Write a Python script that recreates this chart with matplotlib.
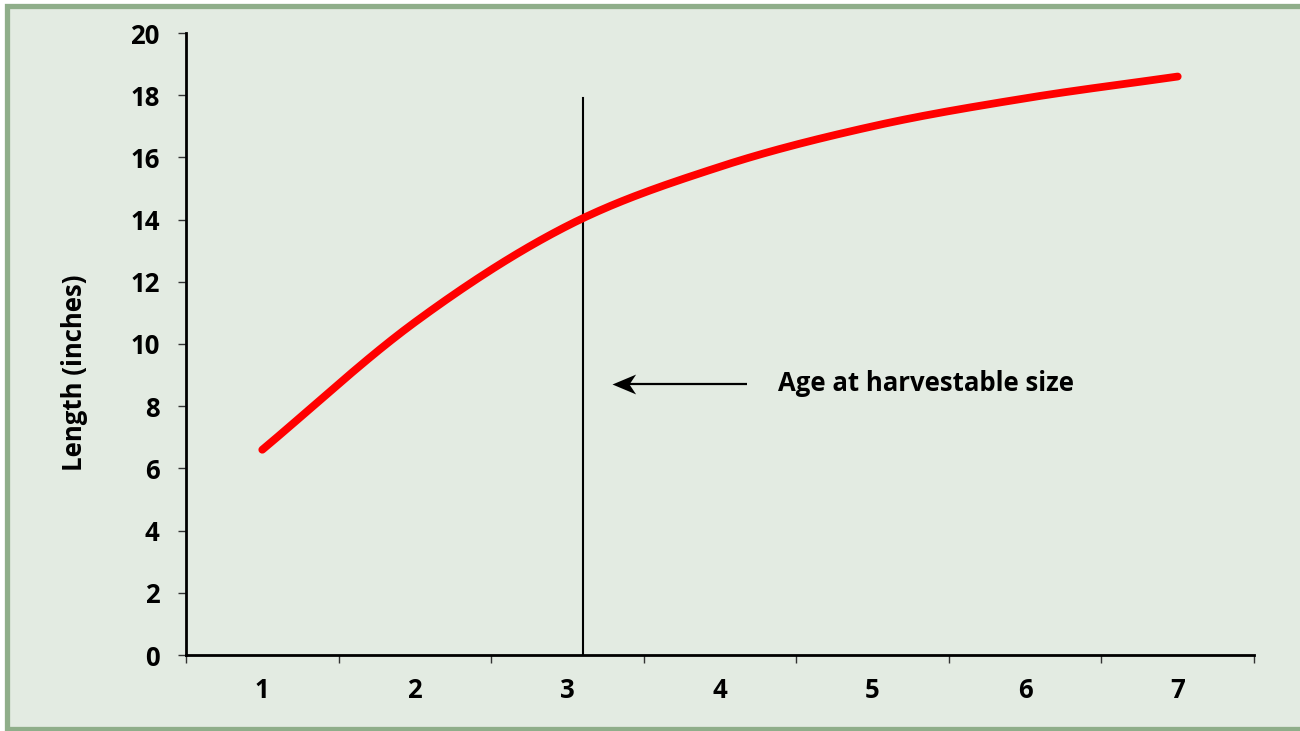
import numpy as np
import matplotlib
matplotlib.use("Agg")
import matplotlib.pyplot as plt
from matplotlib.patches import Rectangle
from matplotlib.path import Path

# Data
ages = [1, 2, 3, 4, 5, 6, 7]
length_in = [6.6, 10.7, 13.8, 15.7, 17.0, 17.9, 18.6]
yticks = [0, 2, 4, 6, 8, 10, 12, 14, 16, 18, 20]
harvest_age = 3.1
harvest_line_top = 17.9
annotation_text = "Age at harvestable size"
ylabel_text = "Length (inches)"

plt.rcParams['font.family'] = ['Open Sans', 'DejaVu Sans']

W, H = 1300, 731
fig = plt.figure(figsize=(W / 100, H / 100), dpi=100)
fig.patch.set_facecolor('white')

# Background panel with green frame (right edge runs off the canvas)
bg = Rectangle((6.5 / W, 2.5 / H), 2.0, (H - 5.5 - 2.5) / H, transform=fig.transFigure,
               facecolor='#E3EBE2', edgecolor='#8FAE8A', linewidth=3.8, zorder=-10)
fig.patches.append(bg)

ax = fig.add_axes([186 / W, 1 - 655 / H, (1254 - 186) / W, (655 - 33) / H])
ax.set_facecolor('none')
ax.set_zorder(5)


def catmull_rom(xs, ys, n=40):
    xs = np.asarray(xs, float)
    ys = np.asarray(ys, float)
    P = np.column_stack([xs, ys])
    P = np.vstack([2 * P[0] - P[1], P, 2 * P[-1] - P[-2]])
    out = []
    t = np.linspace(0, 1, n)[:, None]
    for i in range(1, len(P) - 2):
        p0, p1, p2, p3 = P[i - 1], P[i], P[i + 1], P[i + 2]
        seg = 0.5 * ((2 * p1) + (-p0 + p2) * t + (2 * p0 - 5 * p1 + 4 * p2 - p3) * t ** 2
                     + (-p0 + 3 * p1 - 3 * p2 + p3) * t ** 3)
        out.append(seg if i == 1 else seg[1:])
    out = np.vstack(out)
    return out[:, 0], out[:, 1]


sx, sy = catmull_rom(ages, length_in)
ax.plot(sx, sy, color='#FF0000', linewidth=5.6, solid_capstyle='round', zorder=3)

# Vertical marker line
ax.plot([harvest_age, harvest_age], [0, harvest_line_top], color='black', linewidth=1.5, zorder=2)

# Arrow annotation: shaft + barbed (stealth) head
arrow_y = 8.7
arrow_tip_x = 3.29
arrow_tail_x = 4.18
ax.plot([arrow_tip_x + 0.1, arrow_tail_x], [arrow_y, arrow_y], color='black', linewidth=1.6,
        solid_capstyle='butt', zorder=4)
head = Path([(0, 0), (1, 0.42), (0.72, 0), (1, -0.42), (0, 0)],
            [Path.MOVETO, Path.LINETO, Path.LINETO, Path.LINETO, Path.CLOSEPOLY])
ax.plot([arrow_tip_x], [arrow_y], marker=head, markersize=34, color='black',
        markeredgewidth=0, linestyle='none', zorder=4)

ax.text(4.38, 8.72, annotation_text, fontsize=18.5, fontweight='bold',
        va='center', ha='left')

ax.set_xlim(0.5, 7.5)
ax.set_ylim(0, 20)
ax.set_yticks(yticks)
ax.set_yticklabels([str(v) for v in yticks], fontsize=18.5, fontweight='bold')
ax.set_xticks(np.arange(0.5, 8.0, 1.0))
ax.set_xticklabels([])
ax.set_xticks(ages, minor=True)
ax.set_xticklabels([str(a) for a in ages], minor=True, fontsize=18.5, fontweight='bold')
ax.tick_params(axis='x', which='minor', length=0, pad=16)
ax.tick_params(axis='x', which='major', length=6, width=1, direction='out', color='#333333')
ax.tick_params(axis='y', length=6, width=1, direction='out', pad=13, color='#333333')

for s in ['top', 'right']:
    ax.spines[s].set_visible(False)
for s in ['left', 'bottom']:
    ax.spines[s].set_linewidth(2)
    ax.spines[s].set_color('black')

fig.text(75 / W, 1 - 373 / H, ylabel_text, rotation=90, fontsize=18.5, fontweight='bold',
         ha='center', va='center')

fig.savefig('out.png', dpi=100, facecolor=fig.get_facecolor())
